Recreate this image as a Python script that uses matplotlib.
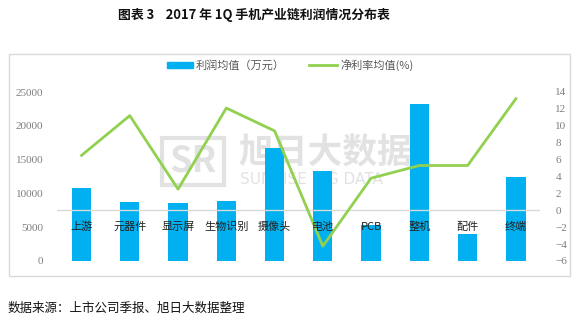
import numpy as np
import matplotlib.pyplot as plt
from matplotlib.patches import Rectangle
from matplotlib.lines import Line2D
import matplotlib.transforms as mtransforms

plt.rcParams['font.family'] = ['Noto Sans CJK SC', 'DejaVu Sans']
plt.rcParams['axes.unicode_minus'] = True

categories = ['上游', '元器件', '显示屏', '生物识别', '摄像头', '电池', 'PCB', '整机', '配件', '终端']
profit = [10800, 8730, 8580, 8870, 16710, 13310, 5320, 23270, 4040, 12420]
margin = [6.5, 11.2, 2.5, 12.1, 9.4, -4.25, 3.8, 5.3, 5.3, 13.2]
left_ticks = list(range(0, 25001, 5000))
right_ticks = list(range(-6, 15, 2))

bar_color = '#00B0F0'
line_color = '#92D050'
grey = '#7f7f7f'
wm = '#e2e2e2'
serif = ['Liberation Serif', 'DejaVu Serif']

fig = plt.figure(figsize=(5.88, 3.23), dpi=100)
W, H = 588, 323

# outer frame
fig.patches.append(Rectangle((9 / W, 1 - 276 / H), 561 / W, 222 / H, transform=fig.transFigure,
                             fill=False, edgecolor='#d9d9d9', linewidth=1))

ax = fig.add_axes([57.4 / W, 1 - 261 / H, (540 - 57.4) / W, 169 / H])
ax2 = ax.twinx()
ax.set_zorder(1)
ax2.set_zorder(2)
ax.patch.set_visible(False)

x = np.arange(len(categories))
ax.bar(x, profit, width=0.4, color=bar_color, zorder=3)
ax.set_ylim(0, 25000)
ax.set_xlim(-0.5, len(categories) - 0.5)
ax.set_yticks(left_ticks, labels=[str(t) for t in left_ticks], fontfamily=serif)
ax.set_xticks([])

ax2.plot(x, margin, color=line_color, linewidth=2.0, zorder=4)
ax2.axhline(0, color='#d9d9d9', linewidth=1, zorder=1)
ax2.set_ylim(-6, 14)
ax2.set_yticks(right_ticks, labels=[str(t).replace('-', '\u2212') for t in right_ticks], fontfamily=serif)

for a in (ax, ax2):
    for s in a.spines.values():
        s.set_visible(False)
    a.tick_params(length=0, labelsize=8, labelcolor=grey)
ax.tick_params(axis='y', pad=10)
ax2.tick_params(axis='y', pad=11)

# category labels sit just under the zero line
trans = mtransforms.blended_transform_factory(ax.transData, ax.transAxes)
for i, c in enumerate(categories):
    ax2.text(i, 0.201, c, transform=trans, ha='center', va='center', fontsize=8, color='#222222', zorder=5)

# watermark
fig.patches.append(Rectangle((162 / W, 1 - 185 / H), 62 / W, 47 / H, transform=fig.transFigure,
                             fill=False, edgecolor=wm, linewidth=3, zorder=0))
fig.text(193 / W, 1 - 161 / H, 'SR', fontsize=26, fontweight='bold', color=wm, ha='center', va='center', zorder=0)
fig.text(238 / W, 1 - 153 / H, '旭日大数据', fontsize=25, fontweight='bold', color=wm, va='center', zorder=0)
fig.text(240 / W, 1 - 180 / H, 'SUNRISE BIG DATA', fontsize=11, color=wm, va='center', zorder=0,
         fontfamily=['DejaVu Sans'])

# legend
fig.patches.append(Rectangle((167 / W, 1 - 68 / H), 26 / W, 6 / H, transform=fig.transFigure, color=bar_color))
fig.text(196 / W, 1 - 65 / H, '利润均值（万元）', fontsize=8, color='#595959', va='center')
fig.lines.append(Line2D([309 / W, 337 / W], [1 - 65 / H, 1 - 65 / H], transform=fig.transFigure,
                        color=line_color, linewidth=2))
fig.text(340 / W, 1 - 65 / H, '净利率均值(%)', fontsize=8, color='#595959', va='center')

fig.text(118 / W, 1 - 15 / H, '图表 3    2017 年 1Q 手机产业链利润情况分布表', fontsize=9.3, fontweight='bold',
         color='#111111', va='center')
fig.text(8 / W, 1 - 308 / H, '数据来源：上市公司季报、旭日大数据整理', fontsize=9, style='italic',
         color='#111111', va='center')

fig.savefig('out.png', dpi=100)
